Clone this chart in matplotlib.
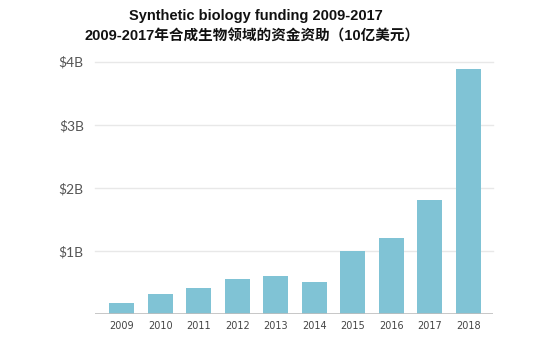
#!/usr/bin/env python3
import matplotlib
matplotlib.use("Agg")
import matplotlib.pyplot as plt

# funding per year, in billions of USD
years = ["2009", "2010", "2011", "2012", "2013", "2014", "2015", "2016", "2017", "2018"]
funding = [0.17, 0.31, 0.41, 0.56, 0.60, 0.50, 1.00, 1.20, 1.80, 3.89]
y_ticks = [1, 2, 3, 4]
y_tick_labels = ["$1B", "$2B", "$3B", "$4B"]

title_en = "Synthetic biology funding 2009-2017"
title_zh = "2009-2017年合成生物领域的资金资助（10亿美元）"

bar_color = "#80c3d5"

fig = plt.figure(figsize=(5.54, 3.39), dpi=100)
ax = fig.add_axes([0.1715, 0.0737, 0.7185, 0.7443])

x = list(range(len(years)))
ax.bar(x, funding, width=0.65, color=bar_color, zorder=3)

ax.set_xlim(-0.69, 9.64)
ax.set_ylim(0, 4)
ax.set_yticks(y_ticks)
ax.set_yticklabels(y_tick_labels, fontsize=10, color="#555555", family="Lato")
ax.set_xticks(x)
ax.set_xticklabels(years, fontsize=7, color="#444444", family="DejaVu Sans")
ax.tick_params(axis="both", length=0)
ax.tick_params(axis="y", pad=8)
ax.tick_params(axis="x", pad=5)

for v in y_ticks:
    ax.axhline(v, color="#e8e8e8", linewidth=1, zorder=1, clip_on=False)
ax.axhline(0, color="#bdbdbd", linewidth=1.2, zorder=4)

for side in ["top", "right", "left", "bottom"]:
    ax.spines[side].set_visible(False)

fam = ["Liberation Sans", "Noto Sans CJK SC"]
fig.text(0.462, 0.952, title_en, ha="center", va="center", fontsize=10.5,
         fontweight="bold", family=fam, color="#111111")
fig.text(0.455, 0.893, title_zh, ha="center", va="center", fontsize=10.5,
         fontweight="bold", family=fam, color="#111111")

fig.savefig("out.png", dpi=100)
